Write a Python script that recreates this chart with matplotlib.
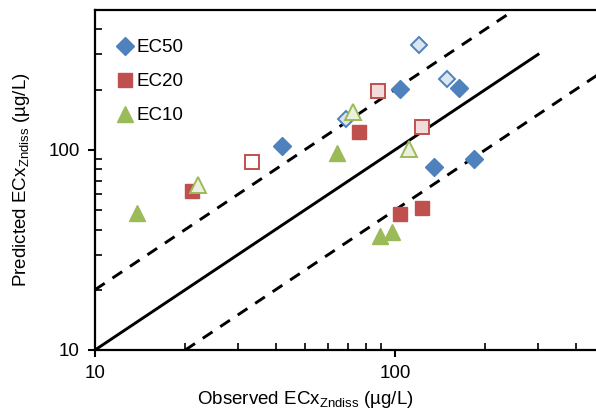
import matplotlib.pyplot as plt
import numpy as np
from matplotlib.ticker import LogLocator, NullFormatter, FixedLocator, FixedFormatter

plt.rcParams['font.family'] = ['Liberation Sans', 'DejaVu Sans']
plt.rcParams['mathtext.fontset'] = 'custom'
plt.rcParams['mathtext.rm'] = 'Liberation Sans'
plt.rcParams['mathtext.it'] = 'Liberation Sans:italic'

# observed / predicted ECx values (ug/L)
ec50_obs = [42, 104, 163, 135, 184]
ec50_pred = [104, 201, 203, 82, 90]
ec50_open_obs = [120, 149, 68.5]
ec50_open_pred = [336, 226, 143]

ec20_obs = [21, 76, 104, 123]
ec20_pred = [62, 123, 48, 51]
ec20_open_obs = [33.5, 87.5, 123]
ec20_open_pred = [87, 196, 130]
ec20_open_fill = ['white', '#F2DCDB', '#F2DCDB']

ec10_obs = [13.8, 64, 89, 97.5]
ec10_pred = [48.5, 97, 37, 39]
ec10_open_obs = [22, 72.6, 111]
ec10_open_pred = [67, 154, 101]

line_x = [10, 300]
upper_x = [10, 500]
lower_x = [20, 1000]

blue = '#4F81BD'
red = '#C0504D'
green = '#9BBB59'

fig = plt.figure(figsize=(5.96, 4.19), dpi=100)
ax = fig.add_axes([0.1594, 0.1647, 0.855, 0.8114])

# 1:1 line and factor-of-2 bounds
ax.plot(line_x, line_x, color='black', lw=2.1, zorder=1)
ax.plot(upper_x, [2 * v for v in upper_x], color='black', lw=2.1, ls=(0, (4, 3.2)), zorder=1)
ax.plot(lower_x, [v / 2 for v in lower_x], color='black', lw=2.1, ls=(0, (4, 3.2)), zorder=1)

ax.plot(ec50_obs, ec50_pred, 'D', color=blue, ms=9.5, mec=blue, ls='none', label='EC50')
ax.plot(ec50_open_obs, ec50_open_pred, 'D', mfc='#DCE6F2', mec=blue, mew=1.4, ms=8.5, ls='none')

ax.plot(ec20_obs, ec20_pred, 's', color=red, ms=10, mec=red, ls='none', label='EC20')
for x, y, fc in zip(ec20_open_obs, ec20_open_pred, ec20_open_fill):
    ax.plot(x, y, 's', mfc=fc, mec=red, mew=1.4, ms=9.5, ls='none')

ax.plot(ec10_obs, ec10_pred, '^', color=green, ms=11.5, mec=green, ls='none', label='EC10')
ax.plot(ec10_open_obs, ec10_open_pred, '^', mfc='#EBF1DE', mec=green, mew=1.4, ms=11, ls='none')

ax.set_xscale('log')
ax.set_yscale('log')
ax.set_xlim(10, 500)
ax.set_ylim(10, 500)

for axis in (ax.xaxis, ax.yaxis):
    axis.set_major_locator(FixedLocator([10, 100]))
    axis.set_major_formatter(FixedFormatter(['10', '100']))
    axis.set_minor_locator(LogLocator(base=10, subs=np.arange(2, 10)))
    axis.set_minor_formatter(NullFormatter())

ax.tick_params(which='major', direction='out', length=5, width=1.5, labelsize=13.5, pad=6)
ax.tick_params(which='minor', direction='in', length=5, width=1.2)
for s in ax.spines.values():
    s.set_linewidth(1.6)

ax.set_xlabel(r'Observed ECx$_{\mathrm{Zndiss}}$ (µg/L)', fontsize=13.5, labelpad=3)
ax.xaxis.set_label_coords(0.412, -0.115)
ax.set_ylabel(r'Predicted ECx$_{\mathrm{Zndiss}}$ (µg/L)', fontsize=13.5, labelpad=12)

ax.legend(loc='upper left', frameon=False, fontsize=13.5, handletextpad=0.0,
          handlelength=1.2, labelspacing=0.9, borderaxespad=0.6,
          bbox_to_anchor=(0.0, 0.97))

fig.savefig('out.png', dpi=100)
